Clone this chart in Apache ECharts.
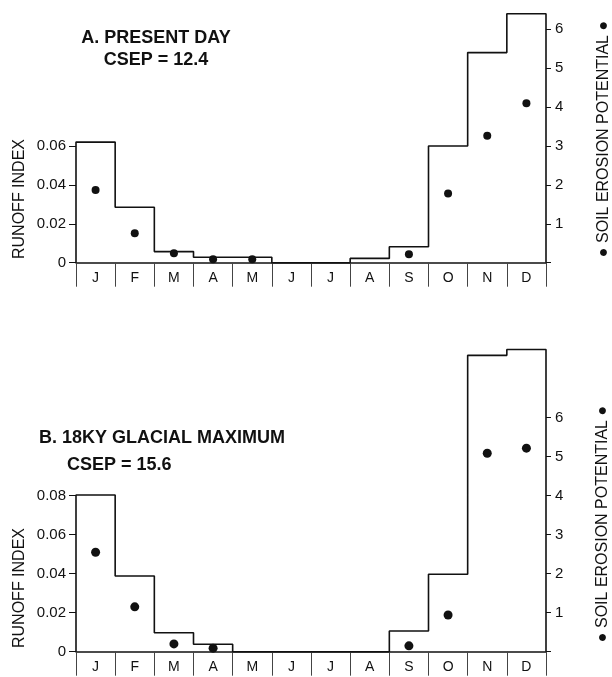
<!DOCTYPE html>
<html>
<head>
<meta charset="utf-8">
<script src="https://cdn.jsdelivr.net/npm/echarts@6/dist/echarts.min.js"></script>
<style>
  html, body { margin: 0; padding: 0; background: #fff; }
  #chart { width: 612px; height: 677px; }
</style>
</head>
<body>
<div id="chart"></div>
<script>
// months and values
var months = ['J', 'F', 'M', 'A', 'M', 'J', 'J', 'A', 'S', 'O', 'N', 'D'];

// A. present day
var runoffA = [0.062, 0.0285, 0.0057, 0.0028, 0.0028, 0, 0, 0.0022, 0.0082, 0.060, 0.108, 0.128];
var erosionA = [1.87, 0.76, 0.24, 0.09, 0.09, null, null, null, 0.22, 1.78, 3.26, 4.10];

// B. 18ky glacial maximum
var runoffB = [0.0804, 0.0388, 0.0097, 0.0038, 0, 0, 0, 0, 0.0106, 0.0397, 0.152, 0.155];
var erosionB = [2.55, 1.15, 0.20, 0.09, null, null, null, null, 0.15, 0.94, 5.09, 5.22];

var runoffTicksA = [0, 0.02, 0.04, 0.06];
var runoffTicksB = [0, 0.02, 0.04, 0.06, 0.08];
var erosionTicks = [1, 2, 3, 4, 5, 6];

var font = '"Liberation Sans", Arial, sans-serif';
var ink = '#111';

// histogram outline: one point per month edge, drawn with step 'end'
function stepData(vals) {
    var d = [[0, 0]];
    vals.forEach(function (v, i) { d.push([i, v]); });
    d.push([vals.length, vals[vals.length - 1]]);
    d.push([vals.length, 0]);
    return d;
}

function catAxis(grid) {
    return {
        type: 'category', gridIndex: grid, data: months, boundaryGap: true,
        axisLine: { show: true, lineStyle: { color: ink, width: 1.5 } },
        axisTick: { show: true, alignWithLabel: false, interval: 0, length: 24, lineStyle: { color: '#444', width: 1 } },
        axisLabel: { interval: 0, margin: 8, fontSize: 14, color: ink, fontFamily: font }
    };
}
function hiddenX(grid) {
    return { type: 'value', gridIndex: grid, min: 0, max: 12, show: false };
}
function leftAxis(grid, max, ticks) {
    return {
        type: 'value', gridIndex: grid, position: 'left', min: 0, max: max,
        splitLine: { show: false },
        axisLine: { show: false },
        axisTick: { show: true, length: 7, customValues: ticks, lineStyle: { color: ink } },
        axisLabel: {
            customValues: ticks, margin: 10, fontSize: 15, color: ink, fontFamily: font,
            formatter: function (v) { return v === 0 ? '0' : v.toFixed(2); }
        }
    };
}
function rightAxis(grid, max) {
    return {
        type: 'value', gridIndex: grid, position: 'right', min: 0, max: max,
        splitLine: { show: false },
        axisLine: { show: false },
        axisTick: { show: true, length: 5, customValues: [0].concat(erosionTicks), lineStyle: { color: ink } },
        axisLabel: { customValues: erosionTicks, margin: 9, fontSize: 15, color: ink, fontFamily: font }
    };
}

function rotText(x, y, text) {
    return {
        type: 'text', x: x, y: y, rotation: Math.PI / 2,
        style: { text: text, fontSize: 16, fontFamily: font, fill: ink, align: 'center', verticalAlign: 'middle' }
    };
}
function titleText(x, y, text, align) {
    return {
        type: 'text', x: x, y: y,
        style: { text: text, fontSize: 18, fontWeight: 'bold', fontFamily: font, fill: ink, align: align, verticalAlign: 'middle' }
    };
}

var chart = echarts.init(document.getElementById('chart'));
var option = {
    backgroundColor: '#fff',
    animation: false,
    grid: [
        { left: 76, right: 66, top: 13.7, height: 249 },
        { left: 76, right: 66, top: 349.5, height: 302.2 }
    ],
    xAxis: [catAxis(0), hiddenX(0), catAxis(1), hiddenX(1)],
    yAxis: [leftAxis(0, 0.128, runoffTicksA), rightAxis(0, 6.4), leftAxis(1, 0.155, runoffTicksB), rightAxis(1, 7.75)],
    series: [
        {
            type: 'line', xAxisIndex: 1, yAxisIndex: 0, step: 'end', data: stepData(runoffA),
            showSymbol: false, clip: false, lineStyle: { color: ink, width: 1.6 }
        },
        {
            type: 'scatter', xAxisIndex: 0, yAxisIndex: 1, data: erosionA,
            symbolSize: 8, itemStyle: { color: ink, opacity: 1 }
        },
        {
            type: 'line', xAxisIndex: 3, yAxisIndex: 2, step: 'end', data: stepData(runoffB),
            showSymbol: false, clip: false, lineStyle: { color: ink, width: 1.6 }
        },
        {
            type: 'scatter', xAxisIndex: 2, yAxisIndex: 3, data: erosionB,
            symbolSize: 9, itemStyle: { color: ink, opacity: 1 }
        }
    ],
    graphic: [
        titleText(156, 38, 'A. PRESENT DAY', 'center'),
        titleText(156, 60, 'CSEP = 12.4', 'center'),
        titleText(39, 438, 'B. 18KY GLACIAL MAXIMUM', 'left'),
        titleText(67, 465, 'CSEP = 15.6', 'left'),
        rotText(20, 199, 'RUNOFF INDEX'),
        rotText(20, 588, 'RUNOFF INDEX'),
        rotText(604, 139, '● SOIL EROSION POTENTIAL ●'),
        rotText(603, 524, '● SOIL EROSION POTENTIAL ●')
    ]
};
chart.setOption(option);
</script>
</body>
</html>
